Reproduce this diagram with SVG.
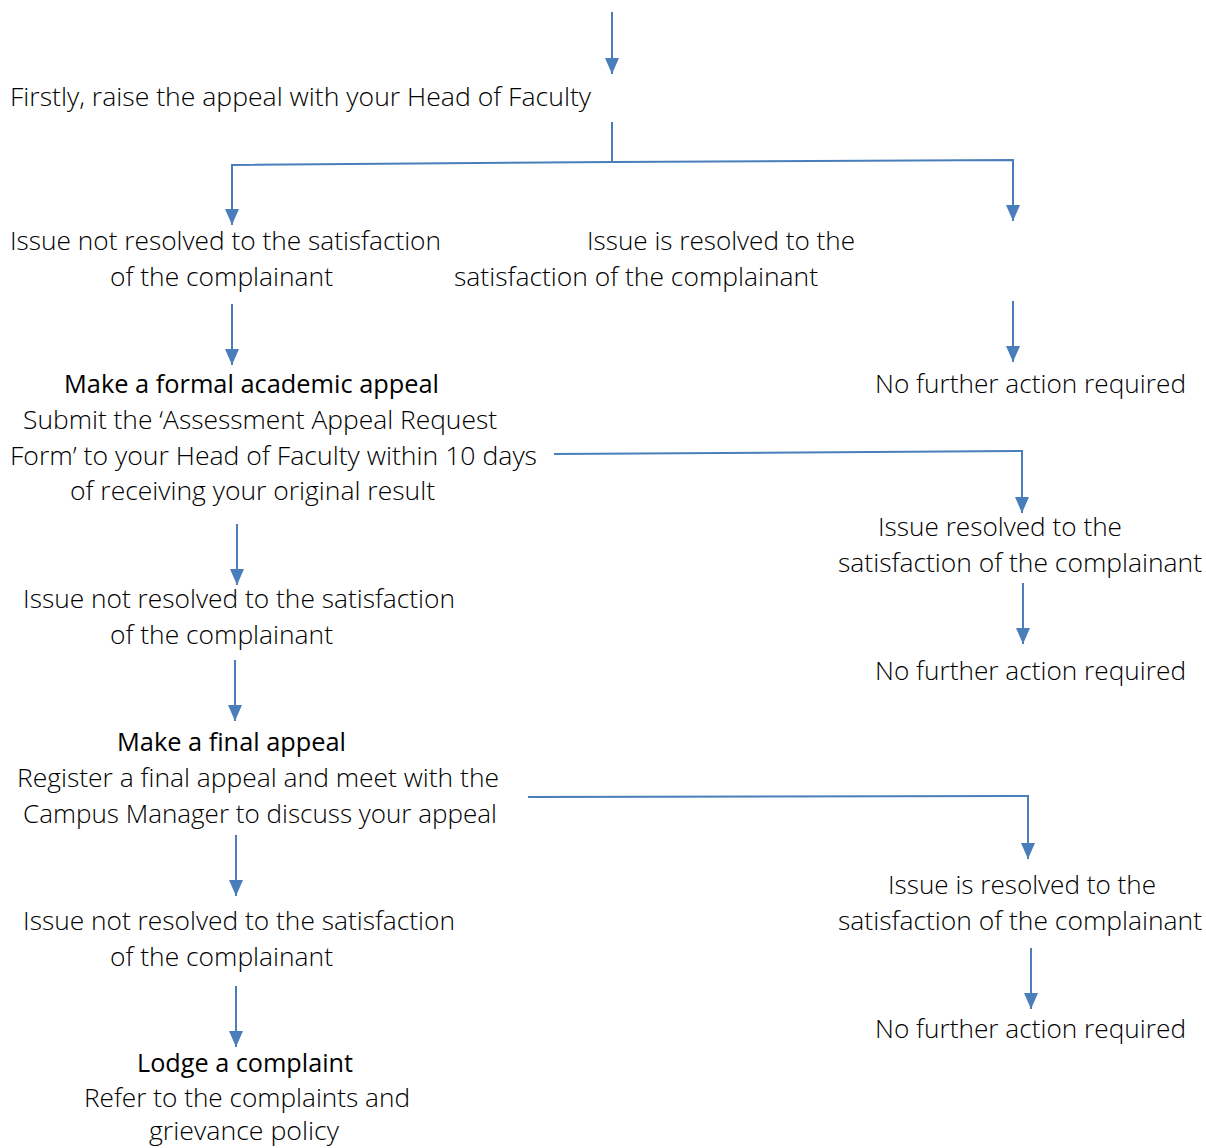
<svg xmlns="http://www.w3.org/2000/svg" width="1206" height="1148" viewBox="0 0 1206 1148">
<style>
text{font-family:"Open Sans","Liberation Sans",sans-serif;font-size:25px;font-weight:300;fill:#000}
.t{font-weight:400;fill:#000}
.c line,.c polyline{stroke:#4a7ebb;stroke-width:2;fill:none}
</style>
<defs>
<marker id="ah" markerUnits="userSpaceOnUse" markerWidth="16" markerHeight="14" refX="16" refY="7" orient="auto"><path d="M0,0 L16,7 L0,14 z" fill="#4a7ebb"/></marker>
</defs>
<rect width="1206" height="1148" fill="#fff"/>
<g class="c" id="connectors">
<line x1="612" y1="12" x2="612" y2="74" marker-end="url(#ah)"/>
<line x1="612" y1="122" x2="612" y2="162"/>
<polyline points="612,162 232,165 232,225" marker-end="url(#ah)"/>
<polyline points="612,162 1013,160 1013,221" marker-end="url(#ah)"/>
<line x1="232" y1="304" x2="232" y2="365" marker-end="url(#ah)"/>
<line x1="1013" y1="301" x2="1013" y2="362" marker-end="url(#ah)"/>
<polyline points="554,454 1022,451 1022,513" marker-end="url(#ah)"/>
<line x1="237" y1="524" x2="237" y2="585" marker-end="url(#ah)"/>
<line x1="1023" y1="583" x2="1023" y2="644" marker-end="url(#ah)"/>
<line x1="235" y1="660" x2="235" y2="721" marker-end="url(#ah)"/>
<polyline points="528,797 1028,796 1028,859" marker-end="url(#ah)"/>
<line x1="236" y1="835" x2="236" y2="896" marker-end="url(#ah)"/>
<line x1="1031" y1="948" x2="1031" y2="1009" marker-end="url(#ah)"/>
<line x1="236" y1="986" x2="236" y2="1047" marker-end="url(#ah)"/>
</g>
<g id="n-start"><text x="10" y="106" textLength="581" lengthAdjust="spacingAndGlyphs">Firstly, raise the appeal with your Head of Faculty</text></g>
<g id="n-notres1">
<text x="10" y="250" textLength="431" lengthAdjust="spacingAndGlyphs">Issue not resolved to the satisfaction</text>
<text x="110" y="286" textLength="223" lengthAdjust="spacingAndGlyphs">of the complainant</text>
</g>
<g id="n-res1">
<text x="587" y="250" textLength="268" lengthAdjust="spacingAndGlyphs">Issue is resolved to the</text>
<text x="454" y="286" textLength="364" lengthAdjust="spacingAndGlyphs">satisfaction of the complainant</text>
</g>
<g id="n-nfa1"><text x="875" y="393" textLength="311" lengthAdjust="spacingAndGlyphs">No further action required</text></g>
<g id="n-formal">
<text class="t" x="64" y="393" textLength="375" lengthAdjust="spacingAndGlyphs">Make a formal academic appeal</text>
<text x="23" y="429" textLength="474" lengthAdjust="spacingAndGlyphs">Submit the ‘Assessment Appeal Request</text>
<text x="10" y="465" textLength="527" lengthAdjust="spacingAndGlyphs">Form’ to your Head of Faculty within 10 days</text>
<text x="70" y="500" textLength="365" lengthAdjust="spacingAndGlyphs">of receiving your original result</text>
</g>
<g id="n-res2">
<text x="878" y="536" textLength="244" lengthAdjust="spacingAndGlyphs">Issue resolved to the</text>
<text x="838" y="572" textLength="364" lengthAdjust="spacingAndGlyphs">satisfaction of the complainant</text>
</g>
<g id="n-notres2">
<text x="23" y="608" textLength="432" lengthAdjust="spacingAndGlyphs">Issue not resolved to the satisfaction</text>
<text x="110" y="644" textLength="223" lengthAdjust="spacingAndGlyphs">of the complainant</text>
</g>
<g id="n-nfa2"><text x="875" y="680" textLength="311" lengthAdjust="spacingAndGlyphs">No further action required</text></g>
<g id="n-final">
<text class="t" x="117" y="751" textLength="229" lengthAdjust="spacingAndGlyphs">Make a final appeal</text>
<text x="17" y="787" textLength="482" lengthAdjust="spacingAndGlyphs">Register a final appeal and meet with the</text>
<text x="23" y="823" textLength="474" lengthAdjust="spacingAndGlyphs">Campus Manager to discuss your appeal</text>
</g>
<g id="n-res3">
<text x="888" y="894" textLength="268" lengthAdjust="spacingAndGlyphs">Issue is resolved to the</text>
<text x="838" y="930" textLength="364" lengthAdjust="spacingAndGlyphs">satisfaction of the complainant</text>
</g>
<g id="n-notres3">
<text x="23" y="930" textLength="432" lengthAdjust="spacingAndGlyphs">Issue not resolved to the satisfaction</text>
<text x="110" y="966" textLength="223" lengthAdjust="spacingAndGlyphs">of the complainant</text>
</g>
<g id="n-nfa3"><text x="875" y="1038" textLength="311" lengthAdjust="spacingAndGlyphs">No further action required</text></g>
<g id="n-lodge">
<text class="t" x="137" y="1072" textLength="216" lengthAdjust="spacingAndGlyphs">Lodge a complaint</text>
<text x="84" y="1107" textLength="326" lengthAdjust="spacingAndGlyphs">Refer to the complaints and</text>
<text x="149" y="1140" textLength="190" lengthAdjust="spacingAndGlyphs">grievance policy</text>
</g>
</svg>
